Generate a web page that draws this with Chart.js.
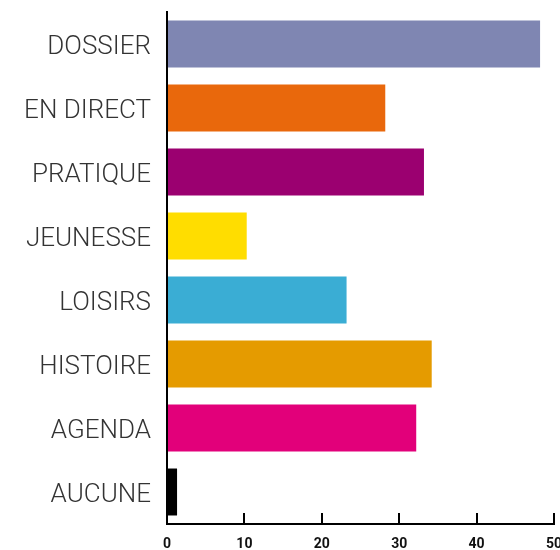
<!DOCTYPE html>
<html lang="fr">
<head>
    <meta charset="UTF-8">
    <title>Rubriques</title>
    <script src="https://cdn.jsdelivr.net/npm/chart.js@4.4.0/dist/chart.umd.min.js"></script>
    <style>
        html, body { margin: 0; padding: 0; background: #fff; overflow: hidden; }
        #wrap { width: 560px; height: 550px; position: relative; }
    </style>
</head>
<body>
    <div id="wrap">
        <canvas id="myChart"></canvas>
    </div>
    <script>
        // valeurs
        const categories = ['DOSSIER', 'EN DIRECT', 'PRATIQUE', 'JEUNESSE', 'LOISIRS', 'HISTOIRE', 'AGENDA', 'AUCUNE'];
        const values = [48.2, 28.2, 33.2, 10.3, 23.2, 34.2, 32.2, 1.3];
        const colors = ['#7f86b2', '#e9680c', '#9b0070', '#ffdd00', '#3aadd4', '#e59b00', '#e2007a', '#000000'];
        const xTicks = [0, 10, 20, 30, 40, 50];

        const config = {
            type: 'bar',
            data: {
                labels: categories,
                datasets: [{
                    data: values,
                    backgroundColor: colors,
                    borderWidth: 0,
                    barPercentage: 0.734,
                    categoryPercentage: 1
                }]
            },
            options: {
                indexAxis: 'y',
                responsive: true,
                maintainAspectRatio: false,
                animation: false,
                layout: { padding: { top: 12, left: 0, right: 0, bottom: 0 } },
                plugins: {
                    legend: { display: false },
                    tooltip: { enabled: false }
                },
                scales: {
                    x: {
                        min: 0,
                        max: 50,
                        afterBuildTicks: (scale) => { scale.ticks = xTicks.map(v => ({ value: v })); },
                        afterFit: (scale) => {
                            scale.height = 26;
                            // le "50" deborde a droite comme sur l'original
                            scale.paddingLeft = 0;
                            scale.paddingRight = 6;
                        },
                        border: { color: '#000', width: 2 },
                        grid: {
                            drawOnChartArea: false,
                            drawTicks: true,
                            tickLength: -11,
                            color: '#000',
                            lineWidth: 2
                        },
                        ticks: {
                            padding: 23,
                            maxRotation: 0,
                            color: '#111',
                            font: { family: 'Roboto', size: 14, weight: 'bold' }
                        }
                    },
                    y: {
                        afterFit: (scale) => {
                            scale.width = 167;
                            scale.paddingTop = 0;
                            scale.paddingBottom = 0;
                        },
                        border: { color: '#000', width: 2 },
                        grid: { display: false, drawTicks: false },
                        ticks: {
                            padding: 16,
                            labelOffset: 3,
                            color: '#333',
                            font: { family: 'Roboto', size: 26, weight: 300 }
                        }
                    }
                }
            }
        };

        window.myChart = new Chart(document.getElementById('myChart').getContext('2d'), config);
    </script>
</body>
</html>
